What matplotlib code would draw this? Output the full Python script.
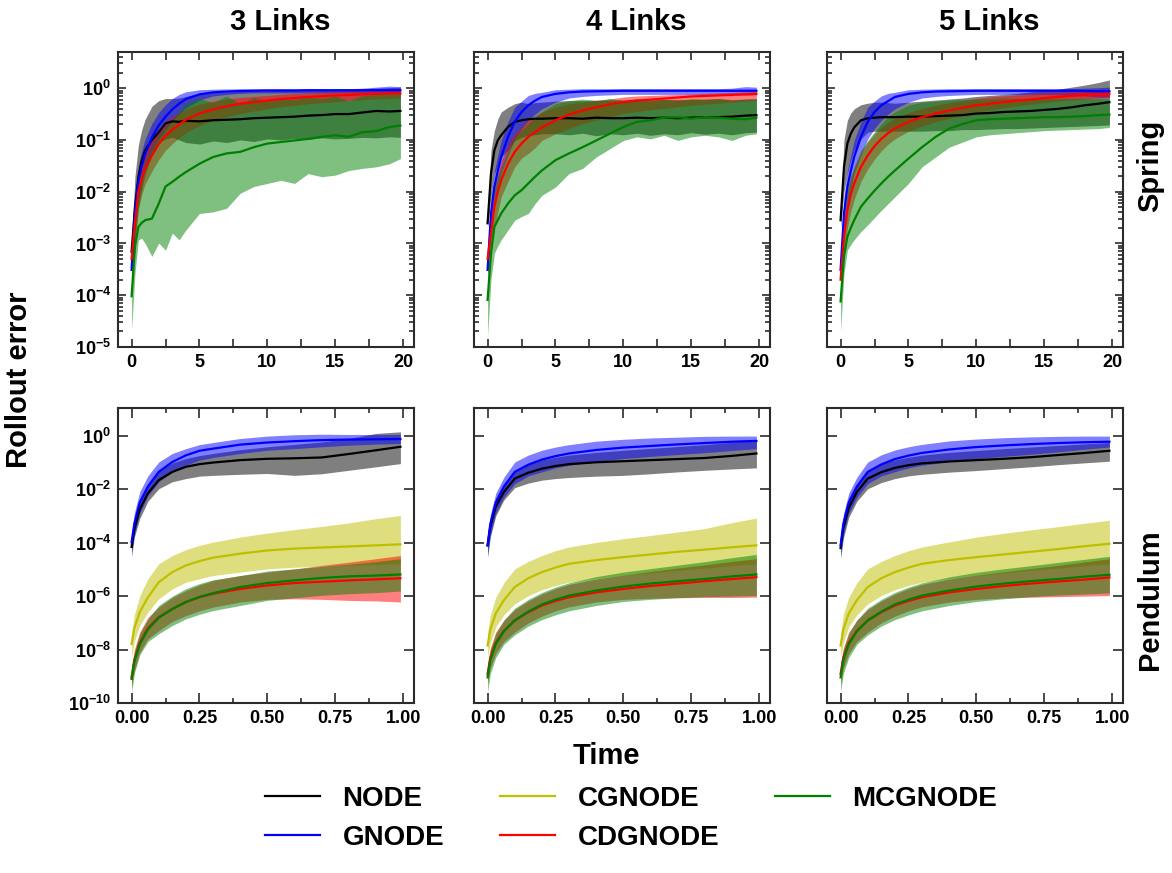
import numpy as np
import matplotlib
matplotlib.use("Agg")
import matplotlib.pyplot as plt
from matplotlib.ticker import FixedLocator, FuncFormatter, NullLocator, LogLocator

plt.rcParams['font.family'] = ['Liberation Sans', 'DejaVu Sans']
plt.rcParams['font.weight'] = 'bold'
plt.rcParams['mathtext.fontset'] = 'custom'
plt.rcParams['mathtext.bf'] = 'Liberation Sans:bold'
plt.rcParams['mathtext.rm'] = 'Liberation Sans:bold'

# ---------------- data (log10 of rollout error) ----------------
methods = ["NODE", "GNODE", "CGNODE", "CDGNODE", "MCGNODE"]
colors = ["k", "b", "y", "r", "g"]
col_titles = ["3 Links", "4 Links", "5 Links"]
row_titles = ["Spring", "Pendulum"]

spring_t = [0, 0.25, 0.5, 0.75, 1, 1.5, 2, 2.5, 3, 3.5, 4, 5, 6, 7, 8, 9, 10, 11, 12, 13, 14, 15, 16, 17, 18, 19, 19.8]
pend_t = [0, 0.01, 0.03, 0.06, 0.1, 0.15, 0.2, 0.25, 0.3, 0.4, 0.5, 0.6, 0.7, 0.8, 0.9, 0.99]

# Spring, 3 links
spring3_node_mid = [-3.16, -2.3, -1.71, -1.4, -1.2, -1.0, -0.85, -0.68, -0.64, -0.65, -0.63, -0.64, -0.62, -0.61, -0.6, -0.58, -0.57, -0.56, -0.55, -0.53, -0.52, -0.5, -0.5, -0.47, -0.44, -0.45, -0.44]
spring3_node_lo = [-3.5, -2.9, -2.3, -1.95, -1.65, -1.3, -1.05, -0.98, -0.95, -1.0, -1.05, -1.08, -1.02, -1.05, -1.0, -1.03, -0.98, -1.0, -0.97, -0.99, -0.96, -0.98, -0.97, -0.95, -0.96, -0.94, -0.95]
spring3_node_hi = [-2.9, -1.7, -1.1, -0.8, -0.6, -0.35, -0.24, -0.2, -0.2, -0.19, -0.16, -0.1, -0.08, -0.07, -0.06, -0.05, -0.05, -0.04, -0.04, -0.03, -0.03, -0.02, -0.02, -0.01, 0.0, 0.01, 0.02]
spring3_gnode_mid = [-3.51, -2.4, -1.8, -1.5, -1.27, -0.95, -0.72, -0.55, -0.41, -0.3, -0.21, -0.12, -0.08, -0.065, -0.055, -0.05, -0.045, -0.045, -0.045, -0.04, -0.04, -0.04, -0.04, -0.04, -0.04, -0.04, -0.04]
spring3_gnode_lo = [-3.7, -2.7, -2.1, -1.8, -1.55, -1.22, -0.98, -0.8, -0.65, -0.5, -0.38, -0.23, -0.15, -0.12, -0.1, -0.09, -0.09, -0.09, -0.09, -0.09, -0.09, -0.09, -0.09, -0.09, -0.1, -0.1, -0.1]
spring3_gnode_hi = [-3.3, -2.1, -1.5, -1.2, -0.98, -0.68, -0.47, -0.32, -0.2, -0.12, -0.07, -0.03, -0.02, -0.015, -0.01, -0.01, -0.01, -0.01, -0.01, -0.01, -0.01, -0.01, -0.01, 0.0, 0.02, 0.04, 0.03]
spring3_cdg_mid = [-3.3, -2.6, -2.0, -1.75, -1.55, -1.3, -1.08, -0.92, -0.8, -0.7, -0.61, -0.49, -0.41, -0.35, -0.3, -0.27, -0.24, -0.21, -0.19, -0.17, -0.155, -0.14, -0.13, -0.12, -0.11, -0.105, -0.1]
spring3_cdg_lo = [-3.7, -3.0, -2.35, -2.05, -1.85, -1.6, -1.38, -1.2, -1.07, -0.96, -0.86, -0.72, -0.62, -0.55, -0.49, -0.44, -0.4, -0.36, -0.33, -0.3, -0.28, -0.26, -0.24, -0.22, -0.21, -0.2, -0.19]
spring3_cdg_hi = [-3.0, -2.2, -1.7, -1.45, -1.25, -1.0, -0.8, -0.65, -0.55, -0.47, -0.4, -0.31, -0.25, -0.21, -0.18, -0.16, -0.14, -0.12, -0.1, -0.09, -0.08, -0.07, -0.06, -0.06, -0.05, -0.05, -0.04]
spring3_mcg_mid = [-4.02, -3.06, -2.68, -2.6, -2.55, -2.52, -2.23, -1.9, -1.81, -1.71, -1.62, -1.46, -1.33, -1.26, -1.23, -1.14, -1.07, -1.04, -1.01, -0.98, -0.94, -0.91, -0.94, -0.85, -0.83, -0.75, -0.72]
spring3_mcg_lo = [-4.67, -3.58, -2.93, -2.9, -3.0, -3.25, -2.99, -3.13, -2.8, -2.93, -2.74, -2.42, -2.39, -2.32, -2.03, -1.9, -1.84, -1.78, -1.84, -1.65, -1.71, -1.68, -1.59, -1.55, -1.52, -1.46, -1.36]
spring3_mcg_hi = [-3.5, -2.3, -1.8, -1.6, -1.4, -1.1, -0.9, -0.75, -0.6, -0.45, -0.3, -0.2, -0.28, -0.15, -0.3, -0.18, -0.25, -0.2, -0.22, -0.17, -0.2, -0.15, -0.25, -0.14, -0.12, -0.11, -0.1]

# Spring, 4 links
spring4_node_mid = [-2.61, -1.65, -1.2, -1.01, -0.91, -0.75, -0.65, -0.62, -0.6, -0.59, -0.59, -0.58, -0.58, -0.59, -0.57, -0.58, -0.58, -0.57, -0.58, -0.57, -0.58, -0.57, -0.56, -0.56, -0.55, -0.53, -0.52]
spring4_node_lo = [-2.7, -2.1, -1.65, -1.5, -1.33, -1.2, -1.01, -0.95, -0.91, -0.9, -0.88, -0.88, -0.9, -0.87, -0.92, -0.88, -0.9, -0.87, -0.91, -0.88, -0.9, -0.86, -0.89, -0.87, -0.9, -0.86, -0.85]
spring4_node_hi = [-2.4, -1.2, -0.82, -0.6, -0.46, -0.37, -0.3, -0.27, -0.3, -0.28, -0.27, -0.25, -0.24, -0.24, -0.23, -0.23, -0.23, -0.22, -0.22, -0.22, -0.22, -0.22, -0.21, -0.2, -0.22, -0.21, -0.2]
spring4_gnode_mid = [-3.51, -2.42, -1.91, -1.6, -1.33, -0.94, -0.65, -0.46, -0.33, -0.24, -0.17, -0.11, -0.08, -0.065, -0.06, -0.055, -0.05, -0.05, -0.05, -0.05, -0.05, -0.05, -0.05, -0.05, -0.05, -0.05, -0.05]
spring4_gnode_lo = [-3.7, -2.75, -2.29, -1.95, -1.65, -1.3, -0.98, -0.78, -0.62, -0.5, -0.4, -0.27, -0.19, -0.16, -0.14, -0.13, -0.12, -0.12, -0.12, -0.12, -0.12, -0.12, -0.12, -0.12, -0.12, -0.13, -0.13]
spring4_gnode_hi = [-3.35, -2.1, -1.6, -1.3, -1.01, -0.65, -0.37, -0.25, -0.14, -0.1, -0.08, -0.03, -0.02, -0.01, -0.01, -0.01, -0.01, -0.01, -0.01, -0.01, -0.01, -0.01, -0.01, -0.01, 0.0, 0.03, 0.02]
spring4_cdg_mid = [-3.3, -2.8, -2.29, -2.0, -1.78, -1.46, -1.23, -1.07, -0.94, -0.85, -0.76, -0.62, -0.51, -0.43, -0.37, -0.31, -0.27, -0.24, -0.22, -0.2, -0.18, -0.16, -0.15, -0.14, -0.13, -0.12, -0.11]
spring4_cdg_lo = [-3.6, -3.2, -2.7, -2.4, -2.1, -1.8, -1.52, -1.35, -1.26, -1.15, -1.01, -0.88, -0.78, -0.68, -0.62, -0.55, -0.49, -0.45, -0.42, -0.39, -0.36, -0.33, -0.31, -0.29, -0.27, -0.25, -0.24]
spring4_cdg_hi = [-3.0, -2.4, -1.9, -1.65, -1.4, -1.1, -0.88, -0.75, -0.62, -0.55, -0.46, -0.37, -0.3, -0.27, -0.24, -0.21, -0.17, -0.15, -0.14, -0.13, -0.12, -0.11, -0.1, -0.09, -0.08, -0.07, -0.06]
spring4_mcg_mid = [-4.09, -3.19, -2.68, -2.55, -2.42, -2.23, -2.07, -1.97, -1.84, -1.71, -1.59, -1.39, -1.26, -1.14, -1.01, -0.88, -0.75, -0.65, -0.62, -0.57, -0.56, -0.59, -0.56, -0.57, -0.59, -0.6, -0.57]
spring4_mcg_lo = [-4.79, -3.7, -3.19, -3.05, -2.93, -2.74, -2.55, -2.48, -2.42, -2.23, -2.07, -1.91, -1.65, -1.55, -1.33, -1.17, -1.01, -0.94, -0.98, -0.91, -1.01, -0.94, -0.91, -0.94, -1.01, -0.91, -0.88]
spring4_mcg_hi = [-3.96, -2.68, -1.97, -1.7, -1.52, -1.2, -0.94, -0.8, -0.69, -0.55, -0.46, -0.3, -0.24, -0.21, -0.24, -0.2, -0.23, -0.2, -0.25, -0.21, -0.24, -0.2, -0.22, -0.2, -0.24, -0.21, -0.22]

# Spring, 5 links
spring5_node_mid = [-2.55, -1.52, -1.07, -0.88, -0.76, -0.62, -0.58, -0.57, -0.56, -0.56, -0.56, -0.55, -0.55, -0.54, -0.53, -0.52, -0.49, -0.48, -0.46, -0.45, -0.44, -0.42, -0.4, -0.37, -0.33, -0.3, -0.27]
spring5_node_lo = [-2.7, -2.0, -1.65, -1.4, -1.2, -0.98, -0.85, -0.83, -0.83, -0.83, -0.83, -0.83, -0.83, -0.82, -0.82, -0.8, -0.8, -0.79, -0.78, -0.78, -0.77, -0.76, -0.75, -0.74, -0.73, -0.72, -0.71]
spring5_node_hi = [-2.4, -1.0, -0.62, -0.48, -0.4, -0.32, -0.29, -0.27, -0.27, -0.28, -0.29, -0.27, -0.25, -0.23, -0.21, -0.19, -0.16, -0.14, -0.12, -0.1, -0.07, -0.05, -0.02, 0.02, 0.06, 0.11, 0.16]
spring5_gnode_mid = [-3.51, -2.42, -1.91, -1.6, -1.33, -0.94, -0.65, -0.46, -0.33, -0.25, -0.17, -0.11, -0.08, -0.065, -0.06, -0.055, -0.05, -0.05, -0.05, -0.05, -0.05, -0.05, -0.05, -0.05, -0.055, -0.06, -0.06]
spring5_gnode_lo = [-3.7, -2.75, -2.29, -1.95, -1.65, -1.3, -0.98, -0.78, -0.62, -0.5, -0.4, -0.27, -0.19, -0.16, -0.14, -0.13, -0.12, -0.12, -0.12, -0.12, -0.12, -0.12, -0.13, -0.14, -0.15, -0.17, -0.17]
spring5_gnode_hi = [-3.35, -2.1, -1.6, -1.3, -1.01, -0.65, -0.37, -0.25, -0.15, -0.1, -0.08, -0.03, -0.02, -0.015, -0.01, -0.01, -0.01, -0.01, -0.01, -0.01, -0.01, -0.01, -0.01, -0.005, 0.0, 0.01, 0.02]
spring5_cdg_mid = [-3.7, -2.87, -2.36, -2.05, -1.84, -1.52, -1.3, -1.12, -0.98, -0.87, -0.78, -0.65, -0.56, -0.49, -0.43, -0.38, -0.33, -0.3, -0.27, -0.24, -0.22, -0.19, -0.17, -0.15, -0.13, -0.12, -0.11]
spring5_cdg_lo = [-4.0, -3.2, -2.7, -2.38, -2.15, -1.8, -1.56, -1.37, -1.21, -1.08, -0.98, -0.83, -0.73, -0.65, -0.58, -0.52, -0.46, -0.42, -0.38, -0.34, -0.31, -0.28, -0.25, -0.23, -0.21, -0.19, -0.18]
spring5_cdg_hi = [-3.4, -2.5, -2.0, -1.72, -1.53, -1.24, -1.04, -0.88, -0.76, -0.66, -0.58, -0.47, -0.39, -0.33, -0.28, -0.24, -0.2, -0.17, -0.15, -0.13, -0.11, -0.09, -0.08, -0.07, -0.06, -0.05, -0.05]
spring5_mcg_mid = [-4.12, -3.25, -2.87, -2.7, -2.55, -2.29, -2.13, -1.98, -1.84, -1.71, -1.59, -1.36, -1.14, -0.94, -0.78, -0.69, -0.62, -0.6, -0.59, -0.58, -0.57, -0.56, -0.56, -0.55, -0.54, -0.52, -0.51]
spring5_mcg_lo = [-4.7, -3.58, -3.13, -3.02, -2.93, -2.77, -2.64, -2.5, -2.36, -2.23, -2.1, -1.84, -1.52, -1.33, -1.14, -1.04, -0.94, -0.9, -0.88, -0.86, -0.84, -0.82, -0.81, -0.8, -0.79, -0.78, -0.76]
spring5_mcg_hi = [-3.96, -2.68, -1.97, -1.7, -1.52, -1.2, -1.01, -0.84, -0.69, -0.55, -0.46, -0.33, -0.27, -0.25, -0.23, -0.22, -0.21, -0.21, -0.2, -0.2, -0.2, -0.2, -0.2, -0.2, -0.2, -0.2, -0.21]

# Pendulum, 3 links
pend3_node_mid = [-4.16, -3.5, -2.75, -2.15, -1.66, -1.35, -1.16, -1.06, -1.0, -0.91, -0.86, -0.84, -0.81, -0.68, -0.54, -0.41]
pend3_node_lo = [-4.54, -3.8, -3.1, -2.45, -1.98, -1.72, -1.6, -1.51, -1.48, -1.44, -1.41, -1.48, -1.42, -1.29, -1.16, -1.04]
pend3_node_hi = [-3.91, -3.2, -2.4, -1.8, -1.29, -1.02, -0.85, -0.74, -0.66, -0.52, -0.41, -0.32, -0.23, -0.1, 0.09, 0.15]
pend3_gnode_mid = [-3.98, -3.3, -2.5, -1.9, -1.35, -0.98, -0.73, -0.56, -0.48, -0.33, -0.25, -0.2, -0.16, -0.14, -0.13, -0.12]
pend3_gnode_lo = [-4.4, -3.7, -2.9, -2.25, -1.72, -1.35, -1.1, -0.91, -0.81, -0.66, -0.54, -0.48, -0.41, -0.35, -0.31, -0.29]
pend3_gnode_hi = [-3.66, -2.9, -2.1, -1.5, -0.98, -0.66, -0.48, -0.33, -0.25, -0.1, -0.01, 0.04, 0.06, 0.05, 0.05, 0.05]
pend3_cg_mid = [-7.79, -7.2, -6.6, -6.05, -5.48, -5.1, -4.85, -4.69, -4.56, -4.41, -4.29, -4.22, -4.18, -4.14, -4.1, -4.06]
pend3_cg_lo = [-8.29, -7.7, -7.1, -6.6, -6.1, -5.73, -5.48, -5.35, -5.23, -5.1, -4.98, -4.92, -4.88, -4.85, -4.82, -4.79]
pend3_cg_hi = [-7.41, -6.7, -6.0, -5.35, -4.79, -4.48, -4.26, -4.1, -3.98, -3.79, -3.64, -3.51, -3.39, -3.26, -3.1, -2.98]
pend3_cdg_mid = [-9.04, -8.4, -7.75, -7.2, -6.79, -6.48, -6.22, -6.04, -5.91, -5.73, -5.6, -5.51, -5.46, -5.41, -5.37, -5.33]
pend3_cdg_lo = [-9.41, -8.8, -8.1, -7.6, -7.29, -6.95, -6.73, -6.55, -6.41, -6.22, -6.12, -6.1, -6.12, -6.16, -6.18, -6.22]
pend3_cdg_hi = [-8.66, -8.0, -7.35, -6.8, -6.41, -6.05, -5.79, -5.58, -5.41, -5.23, -5.1, -4.98, -4.85, -4.73, -4.6, -4.48]
pend3_mcg_mid = [-9.1, -8.45, -7.8, -7.25, -6.81, -6.48, -6.22, -6.03, -5.89, -5.66, -5.51, -5.41, -5.32, -5.26, -5.23, -5.19]
pend3_mcg_lo = [-9.6, -8.9, -8.2, -7.7, -7.41, -7.1, -6.85, -6.68, -6.54, -6.35, -6.16, -6.06, -5.97, -5.91, -5.87, -5.81]
pend3_mcg_hi = [-8.79, -8.1, -7.4, -6.85, -6.35, -6.0, -5.72, -5.53, -5.39, -5.23, -5.06, -4.98, -4.89, -4.81, -4.71, -4.6]

# Pendulum, 4 links
pend4_node_mid = [-4.1, -3.4, -2.65, -2.1, -1.6, -1.38, -1.23, -1.13, -1.06, -0.99, -0.95, -0.91, -0.87, -0.83, -0.75, -0.66]
pend4_node_lo = [-4.54, -3.8, -3.0, -2.4, -1.94, -1.77, -1.66, -1.6, -1.56, -1.51, -1.48, -1.42, -1.35, -1.29, -1.24, -1.2]
pend4_node_hi = [-3.85, -3.1, -2.35, -1.8, -1.3, -1.05, -0.9, -0.8, -0.72, -0.62, -0.54, -0.47, -0.4, -0.33, -0.24, -0.16]
pend4_gnode_mid = [-4.1, -3.3, -2.5, -1.9, -1.35, -1.08, -0.89, -0.76, -0.66, -0.53, -0.44, -0.38, -0.32, -0.27, -0.22, -0.19]
pend4_gnode_lo = [-4.5, -3.7, -2.9, -2.3, -1.79, -1.5, -1.35, -1.2, -1.1, -0.97, -0.85, -0.77, -0.7, -0.63, -0.55, -0.48]
pend4_gnode_hi = [-3.8, -2.95, -2.15, -1.55, -0.98, -0.72, -0.54, -0.42, -0.33, -0.2, -0.13, -0.08, -0.05, -0.02, -0.01, -0.01]
pend4_cg_mid = [-7.85, -7.25, -6.65, -6.15, -5.66, -5.33, -5.1, -4.93, -4.79, -4.65, -4.54, -4.44, -4.34, -4.26, -4.17, -4.1]
pend4_cg_lo = [-8.29, -7.75, -7.15, -6.7, -6.29, -5.98, -5.76, -5.6, -5.48, -5.34, -5.23, -5.13, -5.03, -4.95, -4.86, -4.79]
pend4_cg_hi = [-7.41, -6.7, -6.05, -5.5, -4.98, -4.7, -4.48, -4.3, -4.16, -3.99, -3.85, -3.73, -3.6, -3.47, -3.25, -3.08]
pend4_cdg_mid = [-8.91, -8.3, -7.75, -7.3, -6.91, -6.6, -6.35, -6.18, -6.04, -5.86, -5.73, -5.62, -5.53, -5.44, -5.36, -5.29]
pend4_cdg_lo = [-9.3, -8.7, -8.15, -7.7, -7.35, -7.0, -6.75, -6.55, -6.4, -6.22, -6.12, -6.08, -6.06, -6.05, -6.05, -6.04]
pend4_cdg_hi = [-8.55, -7.95, -7.35, -6.9, -6.5, -6.18, -5.92, -5.72, -5.56, -5.36, -5.22, -5.08, -4.95, -4.83, -4.7, -4.6]
pend4_mcg_mid = [-9.04, -8.4, -7.8, -7.32, -6.91, -6.58, -6.31, -6.13, -5.98, -5.79, -5.64, -5.53, -5.44, -5.36, -5.26, -5.19]
pend4_mcg_lo = [-9.6, -8.9, -8.3, -7.8, -7.45, -7.12, -6.88, -6.7, -6.55, -6.35, -6.2, -6.12, -6.06, -6.02, -6.0, -5.98]
pend4_mcg_hi = [-8.7, -8.0, -7.4, -6.9, -6.45, -6.12, -5.86, -5.66, -5.5, -5.27, -5.1, -4.97, -4.84, -4.71, -4.56, -4.44]

# Pendulum, 5 links
pend5_node_mid = [-4.2, -3.45, -2.7, -2.1, -1.6, -1.36, -1.2, -1.1, -1.03, -0.96, -0.91, -0.86, -0.8, -0.72, -0.64, -0.56]
pend5_node_lo = [-4.6, -3.85, -3.05, -2.45, -1.98, -1.75, -1.6, -1.5, -1.44, -1.36, -1.3, -1.23, -1.16, -1.08, -1.01, -0.95]
pend5_node_hi = [-3.9, -3.1, -2.35, -1.8, -1.3, -1.05, -0.9, -0.8, -0.72, -0.62, -0.55, -0.48, -0.42, -0.36, -0.3, -0.25]
pend5_gnode_mid = [-4.1, -3.3, -2.5, -1.9, -1.35, -1.07, -0.87, -0.74, -0.64, -0.51, -0.42, -0.36, -0.31, -0.27, -0.24, -0.22]
pend5_gnode_lo = [-4.5, -3.7, -2.9, -2.3, -1.79, -1.5, -1.34, -1.2, -1.1, -0.97, -0.85, -0.77, -0.69, -0.6, -0.5, -0.42]
pend5_gnode_hi = [-3.8, -2.95, -2.15, -1.55, -0.98, -0.71, -0.53, -0.41, -0.32, -0.19, -0.12, -0.07, -0.04, -0.02, -0.01, -0.01]
pend5_cg_mid = [-7.85, -7.25, -6.65, -6.15, -5.66, -5.33, -5.1, -4.93, -4.79, -4.65, -4.54, -4.44, -4.34, -4.24, -4.13, -4.04]
pend5_cg_lo = [-8.29, -7.75, -7.15, -6.7, -6.29, -5.98, -5.76, -5.6, -5.48, -5.34, -5.23, -5.13, -5.03, -4.95, -4.86, -4.79]
pend5_cg_hi = [-7.41, -6.7, -6.05, -5.5, -4.98, -4.7, -4.48, -4.3, -4.16, -3.97, -3.79, -3.65, -3.52, -3.4, -3.27, -3.16]
pend5_cdg_mid = [-8.91, -8.3, -7.75, -7.3, -6.91, -6.6, -6.35, -6.18, -6.04, -5.86, -5.73, -5.62, -5.53, -5.45, -5.38, -5.3]
pend5_cdg_lo = [-9.3, -8.7, -8.15, -7.7, -7.35, -7.0, -6.75, -6.55, -6.4, -6.22, -6.12, -6.07, -6.04, -6.02, -6.0, -5.98]
pend5_cdg_hi = [-8.55, -7.95, -7.35, -6.9, -6.5, -6.18, -5.92, -5.72, -5.56, -5.36, -5.22, -5.09, -4.97, -4.85, -4.72, -4.6]
pend5_mcg_mid = [-9.04, -8.4, -7.8, -7.32, -6.91, -6.58, -6.31, -6.13, -5.98, -5.79, -5.64, -5.53, -5.44, -5.36, -5.27, -5.2]
pend5_mcg_lo = [-9.6, -8.9, -8.3, -7.8, -7.45, -7.12, -6.88, -6.7, -6.55, -6.35, -6.2, -6.1, -6.02, -5.96, -5.92, -5.88]
pend5_mcg_hi = [-8.7, -8.0, -7.4, -6.9, -6.45, -6.12, -5.86, -5.66, -5.5, -5.28, -5.11, -4.98, -4.86, -4.74, -4.62, -4.51]

# ---------------- assemble panels ----------------
spring_panels = [
    {"NODE": (spring3_node_mid, spring3_node_lo, spring3_node_hi),
     "GNODE": (spring3_gnode_mid, spring3_gnode_lo, spring3_gnode_hi),
     "CDGNODE": (spring3_cdg_mid, spring3_cdg_lo, spring3_cdg_hi),
     "MCGNODE": (spring3_mcg_mid, spring3_mcg_lo, spring3_mcg_hi)},
    {"NODE": (spring4_node_mid, spring4_node_lo, spring4_node_hi),
     "GNODE": (spring4_gnode_mid, spring4_gnode_lo, spring4_gnode_hi),
     "CDGNODE": (spring4_cdg_mid, spring4_cdg_lo, spring4_cdg_hi),
     "MCGNODE": (spring4_mcg_mid, spring4_mcg_lo, spring4_mcg_hi)},
    {"NODE": (spring5_node_mid, spring5_node_lo, spring5_node_hi),
     "GNODE": (spring5_gnode_mid, spring5_gnode_lo, spring5_gnode_hi),
     "CDGNODE": (spring5_cdg_mid, spring5_cdg_lo, spring5_cdg_hi),
     "MCGNODE": (spring5_mcg_mid, spring5_mcg_lo, spring5_mcg_hi)},
]
pend_panels = [
    {"NODE": (pend3_node_mid, pend3_node_lo, pend3_node_hi),
     "GNODE": (pend3_gnode_mid, pend3_gnode_lo, pend3_gnode_hi),
     "CGNODE": (pend3_cg_mid, pend3_cg_lo, pend3_cg_hi),
     "CDGNODE": (pend3_cdg_mid, pend3_cdg_lo, pend3_cdg_hi),
     "MCGNODE": (pend3_mcg_mid, pend3_mcg_lo, pend3_mcg_hi)},
    {"NODE": (pend4_node_mid, pend4_node_lo, pend4_node_hi),
     "GNODE": (pend4_gnode_mid, pend4_gnode_lo, pend4_gnode_hi),
     "CGNODE": (pend4_cg_mid, pend4_cg_lo, pend4_cg_hi),
     "CDGNODE": (pend4_cdg_mid, pend4_cdg_lo, pend4_cdg_hi),
     "MCGNODE": (pend4_mcg_mid, pend4_mcg_lo, pend4_mcg_hi)},
    {"NODE": (pend5_node_mid, pend5_node_lo, pend5_node_hi),
     "GNODE": (pend5_gnode_mid, pend5_gnode_lo, pend5_gnode_hi),
     "CGNODE": (pend5_cg_mid, pend5_cg_lo, pend5_cg_hi),
     "CDGNODE": (pend5_cdg_mid, pend5_cdg_lo, pend5_cdg_hi),
     "MCGNODE": (pend5_mcg_mid, pend5_mcg_lo, pend5_mcg_hi)},
]

# ---------------- figure ----------------
W, H = 1172, 873
fig = plt.figure(figsize=(W / 100, H / 100), dpi=100)

col_left = [118, 474, 827]
ax_w = 296
row_top = [52, 408]
ax_h = 295

spine_col = "#2b2b2b"

def sci_label(v, pos):
    e = int(round(np.log10(v)))
    return r"$\mathbf{10^{%d}}$" % e

axes = [[None] * 3 for _ in range(2)]
for r in range(2):
    for c in range(3):
        rect = [col_left[c] / W, (H - row_top[r] - ax_h) / H, ax_w / W, ax_h / H]
        share = axes[r][0] if c > 0 else None
        ax = fig.add_axes(rect, sharey=share)
        axes[r][c] = ax

handles = {}
for r in range(2):
    panels = spring_panels if r == 0 else pend_panels
    tgrid = np.array(spring_t if r == 0 else pend_t)
    for c in range(3):
        ax = axes[r][c]
        data = panels[c]
        for m, colr in zip(methods, colors):
            if m not in data:
                continue
            mid, lo, hi = data[m]
            ax.fill_between(tgrid, 10.0 ** np.array(lo), 10.0 ** np.array(hi),
                            color=colr, alpha=0.5, linewidth=0)
            ln, = ax.plot(tgrid, 10.0 ** np.array(mid), color=colr, lw=1.6, label=m)
            if r == 1 and c == 0:
                handles[m] = ln
        ax.set_yscale("log")
        for sp in ax.spines.values():
            sp.set_linewidth(1.5)
            sp.set_color(spine_col)
        ax.tick_params(which="both", direction="in", top=True, right=True,
                       color=spine_col, width=1.2, labelsize=13, pad=5)
        if r == 0:
            ax.tick_params(which="major", length=5.5)
            ax.set_xlim(-1.0, 20.8)
            ax.xaxis.set_major_locator(FixedLocator([0, 5, 10, 15, 20]))
            ax.xaxis.set_minor_locator(FixedLocator([2.5, 7.5, 12.5, 17.5]))
            ax.tick_params(axis="x", which="minor", length=5.5)
            ax.set_ylim(1e-5, 5)
            ax.yaxis.set_major_locator(FixedLocator([10.0 ** k for k in range(-5, 1)]))
            ax.yaxis.set_minor_locator(LogLocator(base=10, subs=np.arange(2, 10), numticks=20))
            ax.tick_params(axis="y", which="minor", length=3.5)
        else:
            ax.tick_params(which="major", length=7)
            ax.set_xlim(-0.05, 1.04)
            ax.xaxis.set_major_locator(FixedLocator([0, 0.25, 0.5, 0.75, 1.0]))
            ax.xaxis.set_minor_locator(FixedLocator([0.125, 0.375, 0.625, 0.875]))
            ax.tick_params(axis="x", which="minor", length=3.5)
            ax.set_ylim(1e-10, 11)
            ax.yaxis.set_major_locator(FixedLocator([10.0 ** k for k in range(-10, 1, 2)]))
            ax.yaxis.set_minor_locator(NullLocator())
            ax.xaxis.set_major_formatter(FuncFormatter(lambda v, p: "%.2f" % v))
        ax.yaxis.set_major_formatter(FuncFormatter(sci_label))
        if c > 0:
            ax.tick_params(axis="y", labelleft=False)
        for lab in ax.get_xticklabels() + ax.get_yticklabels():
            lab.set_fontweight("bold")
        if r == 0:
            ax.text(0.547, 1.076, col_titles[c], transform=ax.transAxes,
                    ha="center", va="baseline", fontsize=21, fontweight="bold")

fig.text(19 / W, 1 - 380 / H, "Rollout error", rotation=90, ha="center", va="center",
         fontsize=21, fontweight="bold")
fig.text(606 / W, 1 - 756 / H, "Time", ha="center", va="center",
         fontsize=21, fontweight="bold")
fig.text(1150 / W, 1 - 166 / H, row_titles[0], rotation=90, ha="center", va="center",
         fontsize=21, fontweight="bold")
fig.text(1150 / W, 1 - 600 / H, row_titles[1], rotation=90, ha="center", va="center",
         fontsize=21, fontweight="bold")

fig.legend([handles[m] for m in methods], methods, loc="center",
           bbox_to_anchor=(631 / W, 1 - 818.5 / H), ncol=3, frameon=False,
           prop=dict(weight="bold", size=20), handlelength=2.0,
           columnspacing=2.0, handletextpad=0.8, labelspacing=0.47)

fig.savefig("out.png", dpi=100)
